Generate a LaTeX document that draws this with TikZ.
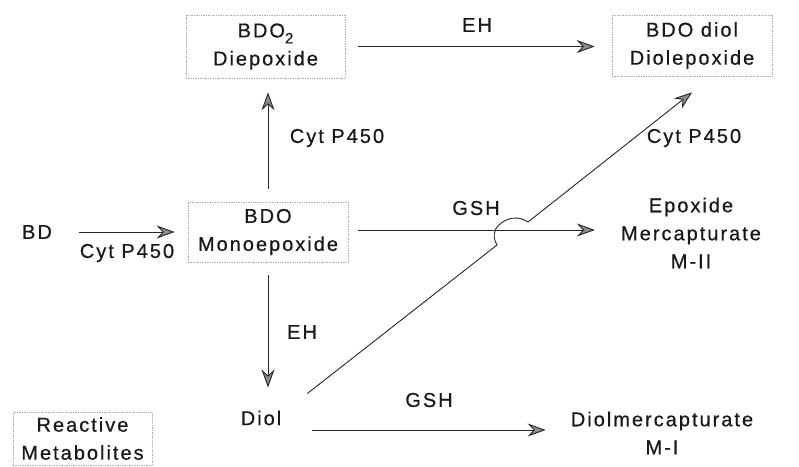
\documentclass[tikz,border=0pt]{standalone}
\usepackage{fontspec}
\setmainfont{Liberation Sans}[LetterSpace=10,FakeBold=0.6]
\usetikzlibrary{arrows.meta,calc}
\begin{document}
\begin{tikzpicture}[x=1pt,y=-1pt,
  every node/.style={font=\fontsize{20}{28}\selectfont, inner sep=0pt, align=center, text=black!90},
  box/.style={draw=gray!65, densely dotted, line width=0.7pt},
  arr/.style={draw=black!85, line width=0.9pt, -{Stealth[length=18pt,width=13pt,inset=6pt,fill=black!45]}},
]
\useasboundingbox (0,0) rectangle (799,466);
% boxes
\node[box, minimum width=159pt, minimum height=63pt] (diep) at (265.5,46.5) {BDO\raisebox{-0.3em}{\fontsize{15}{15}\selectfont 2}\\Diepoxide};
\node[box, minimum width=160pt, minimum height=61pt] (bdodiol) at (692,45.5) {BDO diol\\Diolepoxide};
\node[box, minimum width=160pt, minimum height=60pt] (mono) at (268,232) {BDO\\Monoepoxide};
\node[box, minimum width=139pt, minimum height=53pt] (react) at (82.5,438.5) {Reactive\\Metabolites};
% plain nodes
\node (bd) at (37,232) {BD};
\node (diol) at (261,418) {Diol};
\node (emerc) at (691,233) {Epoxide\\Mercapturate\\M-II};
\node (dmerc) at (662,433) {Diolmercapturate\\M-I};
% labels
\node (l1) at (477,25) {EH};
\node (l2) at (337,138) {Cyt P450};
\node (l3) at (127,253) {Cyt P450};
\node (l4) at (694,138) {Cyt P450};
\node (l5) at (476,208) {GSH};
\node (l6) at (302,332) {EH};
\node (l7) at (429,400) {GSH};
% arrows
\draw[arr, shorten <=27pt, shorten >=13pt] (bd.east) -- (mono.west);
\draw[arr, shorten <=13pt, shorten >=14pt] (mono.north) -- (mono.north |- diep.south);
\draw[arr, shorten <=13pt, shorten >=17pt] (diep.east) -- (diep.east -| bdodiol.west);
\coordinate (m1) at ([yshift=2pt]mono.east);
\draw[arr, shorten <=10pt, shorten >=26pt] (m1) -- (m1 -| emerc.west);
\draw[arr, shorten <=13pt, shorten >=23pt] (mono.south) -- (mono.south |- diol.north);
\coordinate (d1) at ([yshift=-12pt]diol.east);
\draw[arr, shorten <=31pt, shorten >=25pt] (d1) -- (d1 -| dmerc.west);
\coordinate (g0) at ([shift={(26pt,17pt)}]diol.north east);
\coordinate (g1) at ([yshift=-16pt]bdodiol.south);
\draw[arr] (g0) -- (497,245) .. controls (493,238) and (493,230) .. (499,225) .. controls (506,218) and (518,215) .. (528,222) -- (g1);
\end{tikzpicture}
\end{document}
